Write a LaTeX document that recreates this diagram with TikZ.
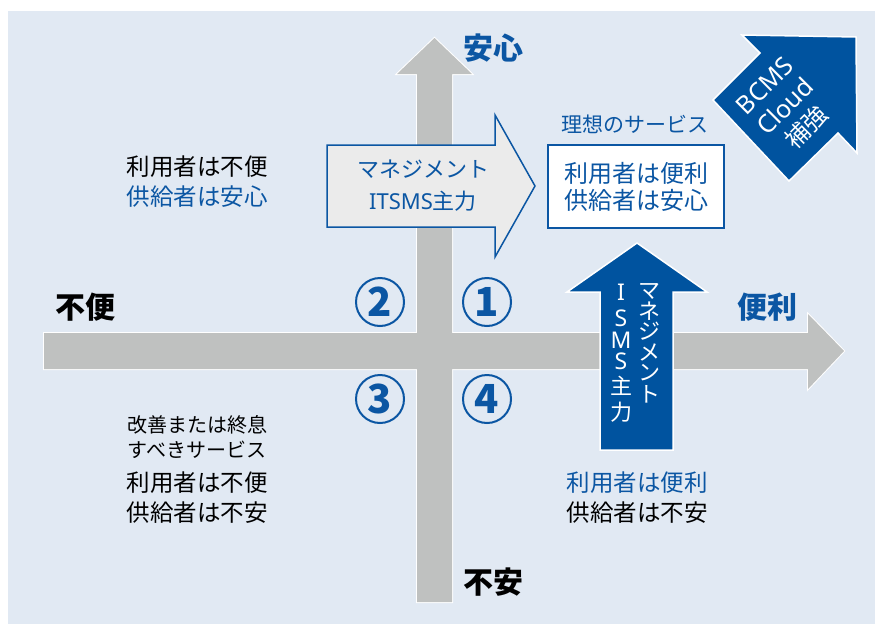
\documentclass[tikz,border=0pt]{standalone}
\usepackage{fontspec}
\setmainfont{Noto Sans CJK JP}
\newfontfamily\lat{Noto Sans}
\definecolor{bg}{HTML}{E1E9F3}
\definecolor{gr}{HTML}{BFC1C0}
\definecolor{bl}{HTML}{0B56A3}
\definecolor{dbl}{HTML}{00539F}
\definecolor{lg}{HTML}{EBEBEB}
\begin{document}
\begin{tikzpicture}[x=1pt,y=-1pt,
  txt/.style={align=center,inner sep=0pt,font=\fontsize{23.5}{30}\selectfont},
  small/.style={align=center,inner sep=0pt,font=\fontsize{20}{25}\selectfont},
  big/.style={inner sep=0pt,font=\fontsize{30}{30}\selectfont\bfseries},
  circnum/.style={circle,draw=bl,line width=2pt,minimum size=48pt,inner sep=0pt,text=bl,font=\fontsize{40}{40}\selectfont\bfseries},
  vchar/.style={inner sep=0pt,text=white,font=\fontsize{22}{22}\selectfont},
  grayarrow/.style={fill=gr,draw=white,line width=2pt,line join=miter}]
\useasboundingbox (0,0) rectangle (875,624);
\fill[bg] (8,11) rectangle (875,624);
% gray axes
\path[grayarrow] (44,333) -- (808,333) -- (808,314) -- (844,351) -- (808,389) -- (808,369) -- (44,369) -- cycle;
\path[grayarrow] (417,602) -- (417,74) -- (397,74) -- (434.5,38) -- (472,74) -- (452,74) -- (452,602) -- cycle;
\fill[gr] (44,333) -- (808,333) -- (808,314) -- (844,351) -- (808,389) -- (808,369) -- (44,369) -- cycle;
\fill[gr] (417,602) -- (417,74) -- (397,74) -- (434.5,38) -- (472,74) -- (452,74) -- (452,602) -- cycle;
% axis labels
\node[big,text=bl] (anshin) at (493,48) {安心};
\node[big,text=black] (fuan) at (493,582) {不安};
\node[big,text=black] (fuben) at (85,307) {不便};
\node[big,text=bl] (benri) at (767,307) {便利};
% circled numbers
\node[circnum] (n1) at (487,302) {1};
\node[circnum] (n2) at (380,302) {2};
\node[circnum] (n3) at (380,399) {3};
\node[circnum] (n4) at (487,399) {4};
% hollow arrow
\filldraw[fill=lg,draw=bl,line width=1.5pt,line join=miter] (327,145) -- (495,145) -- (495,115) -- (535,186) -- (495,257) -- (495,227) -- (327,227) -- cycle;
\node[txt,text=bl,font=\fontsize{22}{32}\selectfont] (mgmt) at (423,186) {マネジメント\\{\lat ITSMS}主力};
% ideal box
\node[small,text=bl,font=\fontsize{21}{24}\selectfont] (ideal) at (635,124) {理想のサービス};
\node[draw=bl,line width=2pt,fill=white,minimum width=176pt,minimum height=83pt,align=center,inner sep=0pt,text=bl,font=\fontsize{24}{27}\selectfont] (box1) at (636,186.5) {利用者は便利\\供給者は安心};
% quadrant texts
\node[txt] (q2) at (197,182) {利用者は不便\\\textcolor{bl}{供給者は安心}};
\node[small] (q3a) at (197,437.5) {改善または終息\\すべきサービス};
\node[txt] (q3b) at (197,498) {利用者は不便\\供給者は不安};
\node[txt] (q4) at (637,498) {\textcolor{bl}{利用者は便利}\\供給者は不安};
% blue up arrow
\filldraw[fill=dbl,draw=white,line width=1.5pt,line join=miter] (600,450) -- (600,292) -- (567,292) -- (637,243) -- (707,292) -- (673,292) -- (673,450) -- cycle;
\node[vchar] (r1) at (649,291) {マ};
\node[vchar] (r2) at (649,311) {ネ};
\node[vchar] (r3) at (649,331) {ジ};
\node[vchar] (r4) at (649,352) {メ};
\node[vchar] (r5) at (649,373) {ン};
\node[vchar] (r6) at (649,394) {ト};
\node[vchar,font=\lat\fontsize{23}{23}\selectfont] (l1) at (621,292) {I};
\node[vchar,font=\lat\fontsize{23}{23}\selectfont] (l2) at (621,318) {S};
\node[vchar,font=\lat\fontsize{23}{23}\selectfont] (l3) at (621,340) {M};
\node[vchar,font=\lat\fontsize{23}{23}\selectfont] (l4) at (621,361) {S};
\node[vchar] (l5) at (621,386) {主};
\node[vchar] (l6) at (621,412) {力};
% BCMS arrow
\filldraw[fill=dbl,draw=white,line width=1.5pt,line join=miter] (760,53) -- (742,35) -- (856,37) -- (857,153) -- (838,133) -- (789,181) -- (713,100) -- cycle;
\node[inner sep=0pt,text=white,rotate=45,align=center,font=\fontsize{24}{29}\selectfont] (bcms) at (786,107) {{\lat\fontsize{25}{29}\selectfont BCMS}\\{\lat\fontsize{25}{29}\selectfont Cloud}\\補強};
\end{tikzpicture}
\end{document}
